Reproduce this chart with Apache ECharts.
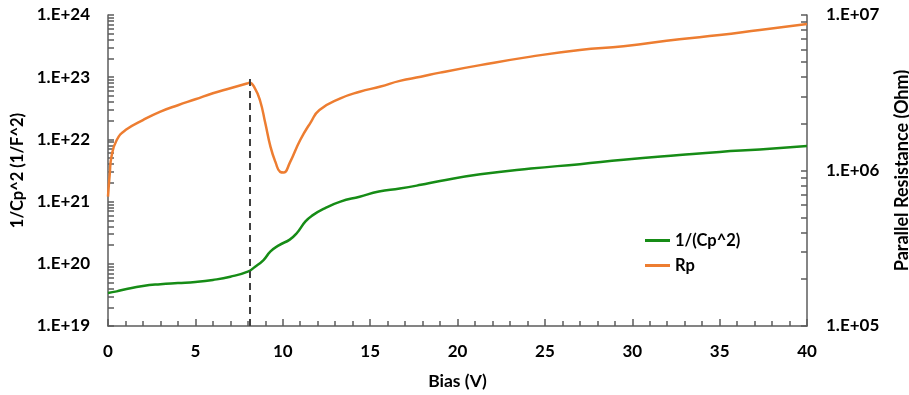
<!DOCTYPE html>
<html>
<head>
<meta charset="utf-8">
<script src="https://cdn.jsdelivr.net/npm/echarts@6.0.0/dist/echarts.min.js"></script>
<style>
  html, body { margin: 0; padding: 0; background: #fff; }
  #bias_chart { width: 909px; height: 395px; }
</style>
</head>
<body>
<div id="bias_chart"></div>
<script>
// 1/(Cp^2) readings, left log axis
var biasCp = [0, 0.5, 1, 2, 3, 4, 5, 6, 7, 8, 8.4, 8.9, 9.3, 9.8, 10.4, 10.8, 11.3, 11.7, 12.4, 13.3, 14.4, 15.5, 16.7, 17.9, 19, 21.3, 24.2, 27, 29.5, 32.7, 35, 37.3, 40];
var invCp2 = [3.4e19, 3.6e19, 3.9e19, 4.4e19, 4.7e19, 4.9e19, 5.1e19, 5.5e19, 6.2e19, 7.5e19, 8.9e19, 1.15e20, 1.58e20, 2.0e20, 2.45e20, 3.1e20, 4.8e20, 6.0e20, 7.8e20, 1.0e21, 1.2e21, 1.45e21, 1.62e21, 1.86e21, 2.15e21, 2.75e21, 3.4e21, 4.0e21, 4.7e21, 5.6e21, 6.3e21, 6.9e21, 7.8e21];

// Rp readings, right log axis
var biasRp = [0, 0.1, 0.2, 0.5, 1, 2, 3, 4, 5, 6, 7, 8, 8.1, 8.4, 8.7, 9, 9.3, 9.6, 9.85, 10.05, 10.4, 11, 11.6, 12.1, 13.3, 14.4, 15.6, 16.7, 17.9, 19, 21.3, 24.2, 27, 29.5, 32.7, 35, 37.3, 40];
var rp = [6.8e5, 9.5e5, 1.23e6, 1.57e6, 1.82e6, 2.11e6, 2.39e6, 2.63e6, 2.87e6, 3.14e6, 3.38e6, 3.64e6, 3.67e6, 3.39e6, 2.82e6, 2.02e6, 1.42e6, 1.12e6, 9.8e5, 9.7e5, 1.12e6, 1.57e6, 2.04e6, 2.45e6, 2.91e6, 3.21e6, 3.47e6, 3.77e6, 4.01e6, 4.26e6, 4.76e6, 5.40e6, 5.96e6, 6.3e6, 6.98e6, 7.43e6, 8.02e6, 8.75e6];

// axis ranges
var xRange = [0, 40];
var leftRange = [1e19, 1e24];
var rightRange = [1e5, 1e7];

// dashed marker
var dashX = 8.1;
var dashTop = 1.1e23;

var dom_bias = document.getElementById('bias_chart');
var chart_bias = echarts.init(dom_bias, null, {
  renderer: 'canvas',
  useDirtyRect: false
});

var FONT = 'Lato';
var AXIS_GRAY = '#5c5c5c';

function zip(xs, ys) {
  var out = [];
  for (var i = 0; i < xs.length; i++) out.push([xs[i], ys[i]]);
  return out;
}

function expLabel(v) {
  var e = Math.round(Math.log10(v));
  return '1.E+' + (e < 10 ? '0' + e : e);
}

// log-spaced ticks (1..9 per decade) as positions on a linear log10 overlay axis
function decadeTicks(range) {
  var lo = Math.round(Math.log10(range[0]));
  var hi = Math.round(Math.log10(range[1]));
  var t = [];
  for (var e = lo; e < hi; e++) {
    for (var m = 1; m <= 9; m++) t.push(e + Math.log10(m));
  }
  t.push(hi);
  return t;
}

function tickOverlay(range, side) {
  return {
    type: 'value',
    min: Math.log10(range[0]),
    max: Math.log10(range[1]),
    position: side,
    axisLine: { show: false },
    axisLabel: { show: false },
    splitLine: { show: false },
    axisTick: { show: true, inside: true, length: 6, customValues: decadeTicks(range), lineStyle: { color: AXIS_GRAY, width: 1.5 } }
  };
}

var option_bias = {
  animation: false,
  grid: {
    left: 108,
    right: 102,
    top: 15,
    bottom: 69,
    // keep the grid at its size; names sit near the canvas edge
    outerBounds: { left: -300, right: -300, top: -300, bottom: -300 }
  },
  legend: {
    orient: 'vertical',
    left: 645,
    top: 232,
    padding: 0,
    itemWidth: 25,
    itemHeight: 3,
    itemGap: 8,
    icon: 'rect',
    textStyle: { fontFamily: FONT, fontWeight: 'bold', fontSize: 16.5, color: '#000' },
    data: ['1/(Cp^2)', 'Rp']
  },
  xAxis: {
    type: 'value',
    min: xRange[0],
    max: xRange[1],
    interval: 5,
    name: 'Bias (V)',
    nameLocation: 'middle',
    nameGap: 46,
    nameTextStyle: { fontFamily: FONT, fontWeight: 'bold', fontSize: 17.5, color: '#000' },
    axisLine: { show: true, lineStyle: { color: AXIS_GRAY, width: 1.5 } },
    axisTick: { show: true, inside: true, length: 7, lineStyle: { color: AXIS_GRAY, width: 1.5 } },
    minorTick: { show: true, splitNumber: 5, length: 5, lineStyle: { color: AXIS_GRAY, width: 1.5 } },
    axisLabel: { margin: 17, fontFamily: FONT, fontWeight: 'bold', fontSize: 17, color: '#000' },
    splitLine: { show: false }
  },
  yAxis: [
    {
      type: 'log',
      logBase: 10,
      min: leftRange[0],
      max: leftRange[1],
      position: 'left',
      name: '1/Cp^2 (1/F^2)',
      nameLocation: 'middle',
      nameRotate: 90,
      nameGap: 76,
      nameTextStyle: { fontFamily: FONT, fontWeight: 'bold', fontSize: 16.5, color: '#000' },
      axisLine: { show: true, lineStyle: { color: AXIS_GRAY, width: 1.5 } },
      axisTick: { show: false },
      axisLabel: { margin: 18, fontFamily: FONT, fontWeight: 'bold', fontSize: 17, color: '#000', formatter: expLabel },
      splitLine: { show: false }
    },
    {
      type: 'log',
      logBase: 10,
      min: rightRange[0],
      max: rightRange[1],
      position: 'right',
      name: 'Parallel Resistance (Ohm)',
      nameLocation: 'middle',
      nameRotate: 90,
      nameGap: 86,
      nameTextStyle: { fontFamily: FONT, fontWeight: 'bold', fontSize: 18, color: '#000' },
      axisLine: { show: true, lineStyle: { color: AXIS_GRAY, width: 1.5 } },
      axisTick: { show: false },
      axisLabel: { margin: 19, fontFamily: FONT, fontWeight: 'bold', fontSize: 17, color: '#000', formatter: expLabel },
      splitLine: { show: false }
    },
    // tick-only overlays in log10 space for the 1..9 decade ticks
    tickOverlay(leftRange, 'left'),
    tickOverlay(rightRange, 'right')
  ],
  series: [
    {
      name: '1/(Cp^2)',
      type: 'line',
      yAxisIndex: 0,
      data: zip(biasCp, invCp2),
      smooth: 0.5,
      showSymbol: false,
      symbol: 'none',
      itemStyle: { color: '#168C16' },
      lineStyle: { color: '#168C16', width: 2.5 },
      markLine: {
        silent: true,
        symbol: 'none',
        label: { show: false },
        lineStyle: { color: '#3f3f3f', width: 2, type: [7, 5] },
        data: [
          [{ coord: [dashX, leftRange[0]] }, { coord: [dashX, dashTop] }]
        ]
      },
      z: 3
    },
    {
      name: 'Rp',
      type: 'line',
      yAxisIndex: 1,
      data: zip(biasRp, rp),
      smooth: 0.5,
      showSymbol: false,
      symbol: 'none',
      itemStyle: { color: '#ED7D31' },
      lineStyle: { color: '#ED7D31', width: 2.5 },
      z: 3
    }
  ]
};

chart_bias.setOption(option_bias);

window.addEventListener('resize', chart_bias.resize);
</script>
</body>
</html>
